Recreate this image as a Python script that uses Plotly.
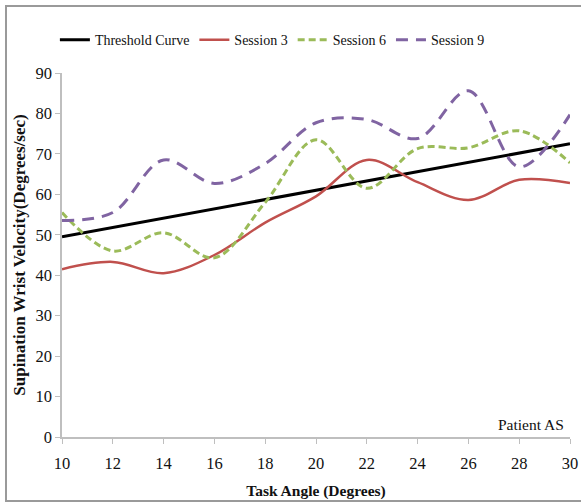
import plotly.graph_objects as go

angles = [10, 12, 14, 16, 18, 20, 22, 24, 26, 28, 30]
threshold = [49.5, 51.8, 54.1, 56.4, 58.7, 61.0, 63.3, 65.6, 67.9, 70.2, 72.5]
session3 = [41.5, 43.3, 40.5, 45.0, 53.0, 59.5, 68.5, 63.0, 58.6, 63.6, 62.8]
session6 = [55.5, 46.0, 50.5, 44.3, 58.0, 73.5, 61.5, 71.3, 71.5, 75.7, 67.8]
session9 = [53.5, 55.5, 68.5, 62.7, 67.6, 77.7, 78.5, 73.8, 85.6, 66.8, 79.7]

x_ticks = [10, 12, 14, 16, 18, 20, 22, 24, 26, 28, 30]
y_ticks = [0, 10, 20, 30, 40, 50, 60, 70, 80, 90]

FONT = "Liberation Serif, Times New Roman, serif"

fig = go.Figure()
fig.add_trace(go.Scatter(x=angles, y=threshold, mode="lines", name="Threshold Curve",
                         line=dict(color="#000000", width=3)))
fig.add_trace(go.Scatter(x=angles, y=session3, mode="lines", name="Session 3",
                         line=dict(color="#C0504D", width=2.5, shape="spline")))
fig.add_trace(go.Scatter(x=angles, y=session6, mode="lines", name="Session 6",
                         line=dict(color="#9BBB59", width=3, shape="spline", dash="7px,4px")))
fig.add_trace(go.Scatter(x=angles, y=session9, mode="lines", name="Session 9",
                         line=dict(color="#8064A2", width=3, shape="spline", dash="12px,8px")))

fig.update_layout(
    width=581, height=504,
    margin=dict(l=62, r=11, t=73, b=67, autoexpand=False),
    paper_bgcolor="white", plot_bgcolor="white",
    font=dict(family=FONT, size=15, color="#111111"),
    showlegend=True,
    legend=dict(orientation="h", x=-0.014, xanchor="left", y=1.09, yanchor="middle",
                font=dict(family=FONT, size=14, color="#111111"),
                bgcolor="rgba(0,0,0,0)", itemwidth=30),
    xaxis=dict(range=[10, 30], tickvals=x_ticks, showgrid=False, zeroline=False,
               automargin=False,
               showline=True, linecolor="#BFBFBF", linewidth=1.5,
               ticks="outside", ticklen=5, tickcolor="#BFBFBF", ticklabelstandoff=5,
               tickfont=dict(family=FONT, size=16.5, color="#111111"),
               title=dict(text="<b>Task Angle (Degrees)</b>", standoff=14,
                          font=dict(family=FONT, size=15.5, color="#111111"))),
    yaxis=dict(range=[0, 90], tickvals=y_ticks, showgrid=False, zeroline=False,
               automargin=False,
               showline=True, linecolor="#BFBFBF", linewidth=1.5,
               ticks="outside", ticklen=5, tickcolor="#BFBFBF",
               tickfont=dict(family=FONT, size=16.5, color="#111111"),
               title=dict(text="<b>Supination Wrist Velocity(Degrees/sec)</b>", standoff=6,
                          font=dict(family=FONT, size=17, color="#111111"))),
    annotations=[dict(text="Patient AS", xref="paper", yref="paper", x=0.992, y=0.033,
                      xanchor="right", yanchor="middle", showarrow=False,
                      font=dict(family=FONT, size=15.5, color="#111111"))],
    shapes=[dict(type="rect", xref="paper", yref="paper",
                 x0=(6 - 62) / 508, x1=(585 - 62) / 508,
                 y0=(437 - 501) / 364, y1=(437 - 6) / 364,
                 line=dict(color="#9A9A9A", width=2), layer="below")],
)

fig.write_html("out.html", config={"displayModeBar": False},
               post_script="document.body.style.margin='0';document.body.style.overflow='hidden';")
